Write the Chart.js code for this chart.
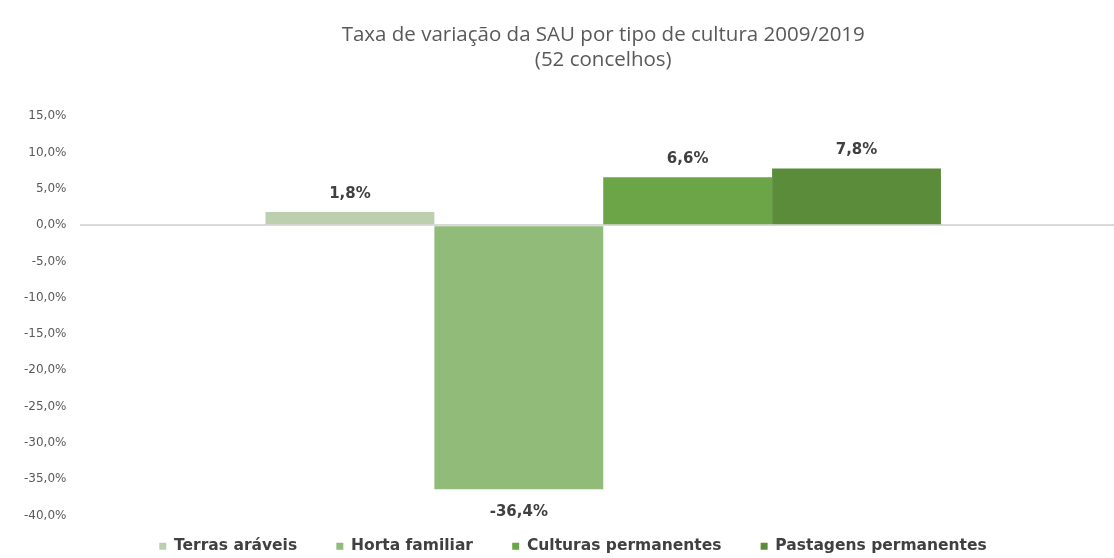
<!DOCTYPE html>
<html>
<head>
<meta charset="utf-8">
<script src="https://cdn.jsdelivr.net/npm/chart.js@4"></script>
<style>
  html, body { margin: 0; padding: 0; background: #fff; overflow: hidden; }
  /* plot runs slightly past the right edge of the window */
  #wrap { width: 1126px; height: 558px; }
</style>
</head>
<body>
<div id="wrap"><canvas id="chart"></canvas></div>
<script>
// series (one single category, four cultures)
const categorias = ["SAU"];
const culturas = ["Terras aráveis", "Horta familiar", "Culturas permanentes", "Pastagens permanentes"];
const variacao = [1.8, -36.4, 6.6, 7.8];
const cores = ["#bccfae", "#91bb79", "#6ba547", "#5b8c3a"];

const yMin = -40, yMax = 15, yStep = 5;

const fmtPct = v => v.toFixed(1).replace(".", ",") + "%";

// value labels above / below each bar
const rotulos = {
  id: "rotulos",
  afterDatasetsDraw(chart) {
    const ctx = chart.ctx;
    ctx.save();
    ctx.font = "bold 15px 'DejaVu Sans', sans-serif";
    ctx.fillStyle = "#404040";
    ctx.textAlign = "center";
    ctx.textBaseline = "middle";
    chart.data.datasets.forEach((ds, i) => {
      const meta = chart.getDatasetMeta(i);
      meta.data.forEach((bar, j) => {
        const v = ds.data[j];
        const y = v >= 0 ? bar.y - 18 : bar.y + 23;
        ctx.fillText(fmtPct(v), bar.x, y);
      });
    });
    ctx.restore();
  }
};

new Chart(document.getElementById("chart"), {
  type: "bar",
  data: {
    labels: categorias,
    datasets: culturas.map((nome, i) => ({
      label: nome,
      data: [variacao[i]],
      backgroundColor: cores[i],
      categoryPercentage: 0.646,
      barPercentage: 1.0
    }))
  },
  options: {
    responsive: true,
    maintainAspectRatio: false,
    animation: false,
    layout: { padding: { left: 10, right: -10, bottom: -6 } },
    plugins: {
      title: {
        display: true,
        fullSize: false,
        text: ["Taxa de variação da SAU por tipo de cultura 2009/2019", "(52 concelhos)"],
        color: "#595959",
        font: { family: "'Open Sans', sans-serif", size: 20.5, weight: "normal", lineHeight: 1.25 },
        padding: { top: 22, bottom: 43 }
      },
      legend: {
        position: "bottom",
        fullSize: true,
        labels: {
          color: "#404040",
          font: { family: "'DejaVu Sans', sans-serif", size: 15.5, weight: "bold" },
          boxWidth: 7,
          boxHeight: 7,
          padding: 23,
          // extra room after each entry
          generateLabels(chart) {
            const items = Chart.defaults.plugins.legend.labels.generateLabels(chart);
            items.forEach((it, i) => { if (i < items.length - 1) it.text += "   "; });
            return items;
          }
        }
      },
      tooltip: { enabled: false }
    },
    scales: {
      x: { display: false },
      y: {
        min: yMin,
        max: yMax,
        border: { display: false },
        ticks: {
          stepSize: yStep,
          color: "#595959",
          padding: 14,
          font: { family: "'DejaVu Sans', sans-serif", size: 12 },
          callback: v => fmtPct(v)
        },
        grid: {
          drawTicks: false,
          lineWidth: 2,
          color: c => c.tick && c.tick.value === 0 ? "#d9d9d9" : "rgba(0,0,0,0)"
        }
      }
    }
  },
  plugins: [rotulos]
});
</script>
</body>
</html>
